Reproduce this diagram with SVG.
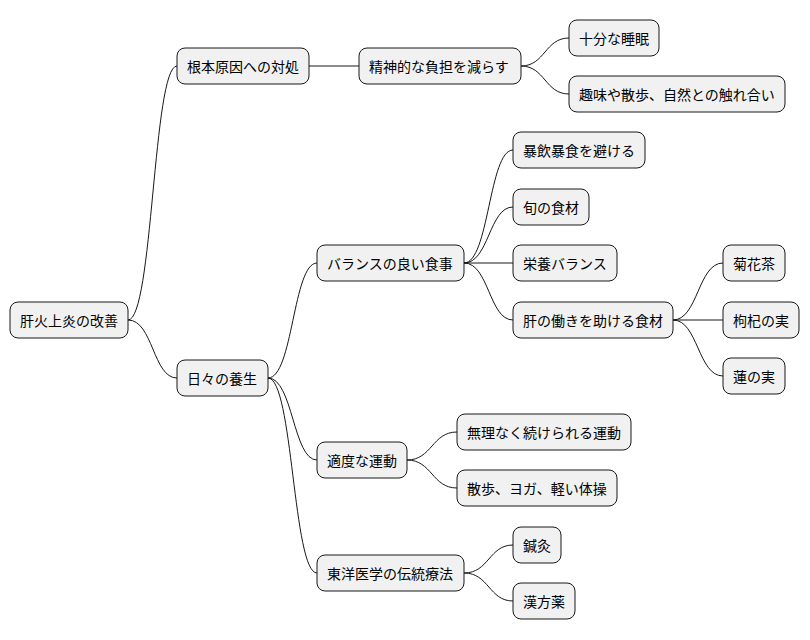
<svg xmlns="http://www.w3.org/2000/svg" width="810" height="640" viewBox="0 0 810 640">
<style>
rect{fill:#f1f1f1;stroke:#181818;stroke-width:1}
text{font-family:"Noto Sans CJK JP",sans-serif;font-size:14px;fill:#000;dominant-baseline:central}
#c path{fill:none;stroke:#181818;stroke-width:1}
</style>
<rect width="810" height="640" fill="#fff" style="stroke:none;fill:#fff"/>
<g id="c">
<path d="M128,320 C153,320 153,66 177,66"/>
<path d="M128,320 C153,320 153,378 177,378"/>
<path d="M309,66 L359,66"/>
<path d="M521,66 C545,66 545,38 569,38"/>
<path d="M521,66 C545,66 545,94 569,94"/>
<path d="M268,378 C293,378 293,263 317,263"/>
<path d="M268,378 C293,378 293,460 317,460"/>
<path d="M268,378 C293,378 293,573 317,573"/>
<path d="M464,263 C489,263 489,150 513,150"/>
<path d="M464,263 C489,263 489,207 513,207"/>
<path d="M464,263 L513,263"/>
<path d="M464,263 C489,263 489,320 513,320"/>
<path d="M673,320 C698,320 698,263 723,263"/>
<path d="M673,320 L723,320"/>
<path d="M673,320 C698,320 698,376 723,376"/>
<path d="M407,460 C432,460 432,432 457,432"/>
<path d="M407,460 C432,460 432,488 457,488"/>
<path d="M464,573 C489,573 489,545 513,545"/>
<path d="M464,573 C489,573 489,601 513,601"/>
</g>
<g id="n0"><rect x="10" y="302" width="118" height="36" rx="8"/><text x="20" y="320">肝火上炎の改善</text></g>
<g id="n1"><rect x="177" y="48" width="132" height="36" rx="8"/><text x="187" y="66">根本原因への対処</text></g>
<g id="n2"><rect x="359" y="48" width="162" height="36" rx="8"/><text x="369" y="66">精神的な負担を減らす</text></g>
<g id="n3"><rect x="569" y="20" width="90" height="36" rx="8"/><text x="579" y="38">十分な睡眠</text></g>
<g id="n4"><rect x="569" y="76" width="216" height="36" rx="8"/><text x="579" y="94">趣味や散歩、自然との触れ合い</text></g>
<g id="n5"><rect x="177" y="360" width="91" height="36" rx="8"/><text x="187" y="378">日々の養生</text></g>
<g id="n6"><rect x="317" y="245" width="147" height="36" rx="8"/><text x="327" y="263">バランスの良い食事</text></g>
<g id="n7"><rect x="513" y="132" width="132" height="36" rx="8"/><text x="523" y="150">暴飲暴食を避ける</text></g>
<g id="n8"><rect x="513" y="189" width="76" height="36" rx="8"/><text x="523" y="207">旬の食材</text></g>
<g id="n9"><rect x="513" y="245" width="104" height="36" rx="8"/><text x="523" y="263">栄養バランス</text></g>
<g id="n10"><rect x="513" y="302" width="160" height="36" rx="8"/><text x="523" y="320">肝の働きを助ける食材</text></g>
<g id="n11"><rect x="723" y="245" width="62" height="36" rx="8"/><text x="733" y="263">菊花茶</text></g>
<g id="n12"><rect x="723" y="302" width="76" height="36" rx="8"/><text x="733" y="320">枸杞の実</text></g>
<g id="n13"><rect x="723" y="358" width="62" height="36" rx="8"/><text x="733" y="376">蓮の実</text></g>
<g id="n14"><rect x="317" y="442" width="90" height="36" rx="8"/><text x="327" y="460">適度な運動</text></g>
<g id="n15"><rect x="457" y="414" width="174" height="36" rx="8"/><text x="467" y="432">無理なく続けられる運動</text></g>
<g id="n16"><rect x="457" y="470" width="160" height="36" rx="8"/><text x="467" y="488">散歩、ヨガ、軽い体操</text></g>
<g id="n17"><rect x="317" y="555" width="147" height="36" rx="8"/><text x="327" y="573">東洋医学の伝統療法</text></g>
<g id="n18"><rect x="513" y="527" width="48" height="36" rx="8"/><text x="523" y="545">鍼灸</text></g>
<g id="n19"><rect x="513" y="583" width="62" height="36" rx="8"/><text x="523" y="601">漢方薬</text></g>
</svg>
